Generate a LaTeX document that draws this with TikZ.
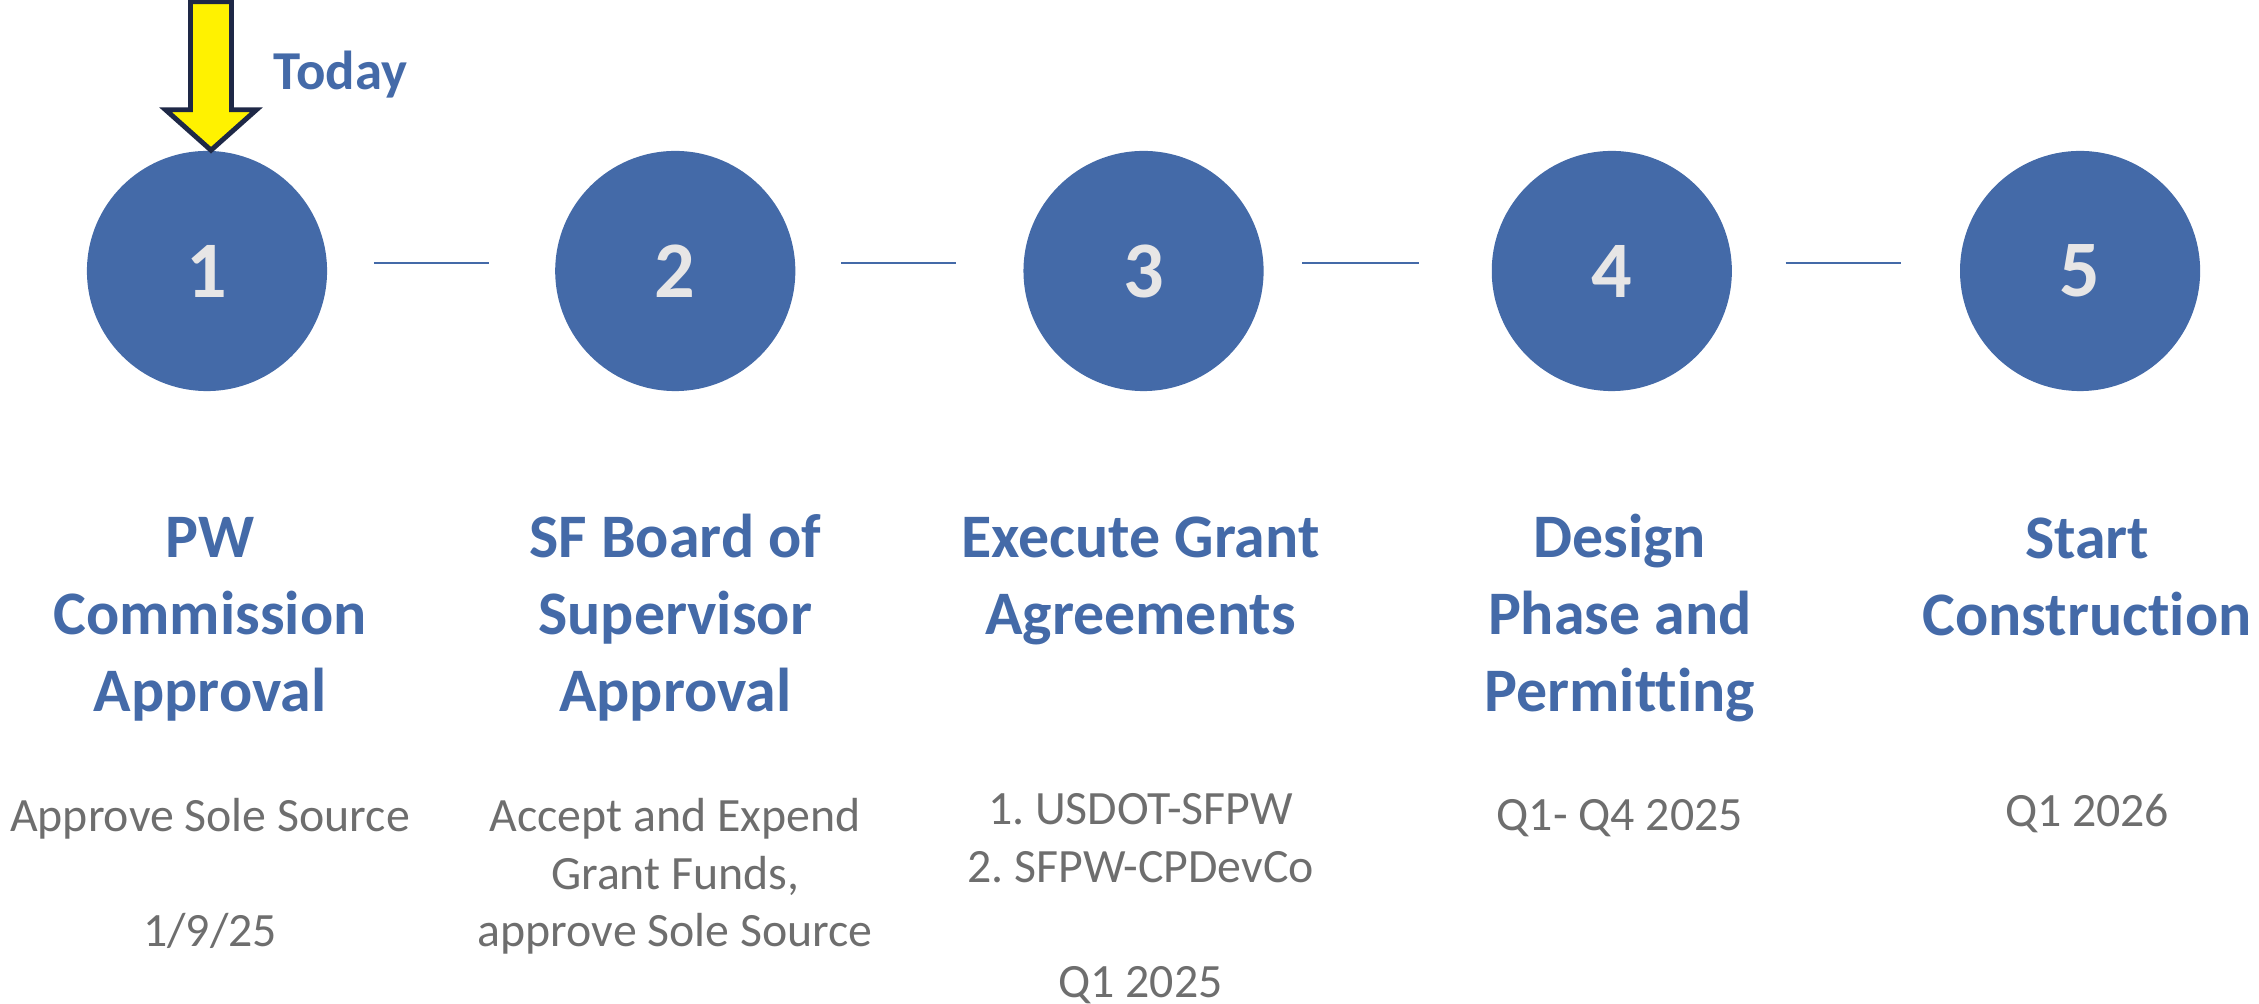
\documentclass[tikz,border=0pt]{standalone}
\usepackage{fontspec}
\setmainfont[Ligatures=NoCommon]{Carlito}
\usetikzlibrary{positioning}
\definecolor{stepblue}{RGB}{68,106,168}
\definecolor{numgrey}{RGB}{231,230,230}
\definecolor{notegrey}{RGB}{110,110,110}
\definecolor{arrownavy}{RGB}{30,40,70}
\tikzstyle{Tstep}=[circle,fill=stepblue,minimum size=2.4cm,inner sep=0,
                text=numgrey,font=\bfseries\fontsize{22.8pt}{27pt}\selectfont]
\tikzstyle{Ttitle}=[align=center,inner sep=0,text=stepblue,
                font=\bfseries\fontsize{17.6pt}{21.9pt}\selectfont]
\tikzstyle{Tnote}=[align=center,inner sep=0,text=notegrey,
                font=\fontsize{13.6pt}{16.4pt}\selectfont]
\tikzstyle{Ttoday}=[inner sep=0,text=stepblue,
                font=\bfseries\fontsize{15.6pt}{18pt}\selectfont]
\tikzstyle{Tlink}=[every edge/.style={draw=stepblue,line width=0.57pt}]
\tikzstyle{todayarrow}=[draw=arrownavy,fill=yellow,line width=1.4pt,line join=miter]

\begin{document}
\begin{tikzpicture}[x=0.01cm,y=0.01cm,node distance=4.68cm]
\useasboundingbox (0,0) rectangle (2259,-1004);

\node[Tstep] (s1) at (207,-271) {1};
\node[Tstep,right of=s1] (s2) {2};
\node[Tstep,right of=s2] (s3) {3};
\node[Tstep,right of=s3] (s4) {4};
\node[Tstep,right of=s4] (s5) {5};

% titles, first line starts with a strut so that north sits on it
\node[Ttitle,below=2.32cm of s1.center,xshift=0.03cm] (t1)
{\strut PW\\Commission\\Approval};
\node[Ttitle,below=2.32cm of s2.center] (t2)
{\strut SF Board of\\Supervisor\\Approval};
\node[Ttitle,below=2.32cm of s3.center,xshift=-0.03cm] (t3)
{\strut Execute Grant\\Agreements};
\node[Ttitle,below=2.32cm of s4.center,xshift=0.08cm] (t4)
{\strut Design\\Phase and\\Permitting};
\node[Ttitle,below=2.33cm of s5.center,xshift=0.07cm] (t5)
{\strut Start\\Construction};

\node[Tnote,below=2.87cm of t1.north] (n1)
{\strut Approve Sole Source\\[16.4pt]1/9/25};
\node[Tnote,below=2.87cm of t2.north] (n2)
{\strut Accept and Expend\\Grant Funds,\\approve Sole Source};
\node[Tnote,below=2.80cm of t3.north] (n3)
{\strut 1.\ USDOT-SFPW\\2.\ SFPW-CPDevCo\\[16.4pt]Q1 2025};
\node[Tnote,below=2.86cm of t4.north] (n4) {\strut Q1- Q4 2025};
\node[Tnote,below=2.81cm of t5.north] (n5) {\strut Q1 2026};

\path[Tlink]
([yshift=0.08cm]s1.east) edge[shorten <=0.46cm,shorten >=0.65cm] ([yshift=0.08cm]s2.west)
([yshift=0.08cm]s2.east) edge[shorten <=0.45cm,shorten >=0.67cm] ([yshift=0.08cm]s3.west)
([yshift=0.08cm]s3.east) edge[shorten <=0.38cm,shorten >=0.72cm] ([yshift=0.08cm]s4.west)
([yshift=0.08cm]s4.east) edge[shorten <=0.53cm,shorten >=0.58cm] ([yshift=0.08cm]s5.west)
;

% today marker
\draw[todayarrow] ([xshift=0.04cm]s1.north) -- ++(45.5,40.5) -- ++(-25,0)
  -- ++(0,108) -- ++(-41,0) -- ++(0,-108) -- ++(-25,0) -- cycle;
\node[Ttoday,anchor=base west] (today) at (273,-90) {Today};
\end{tikzpicture}
\end{document}
